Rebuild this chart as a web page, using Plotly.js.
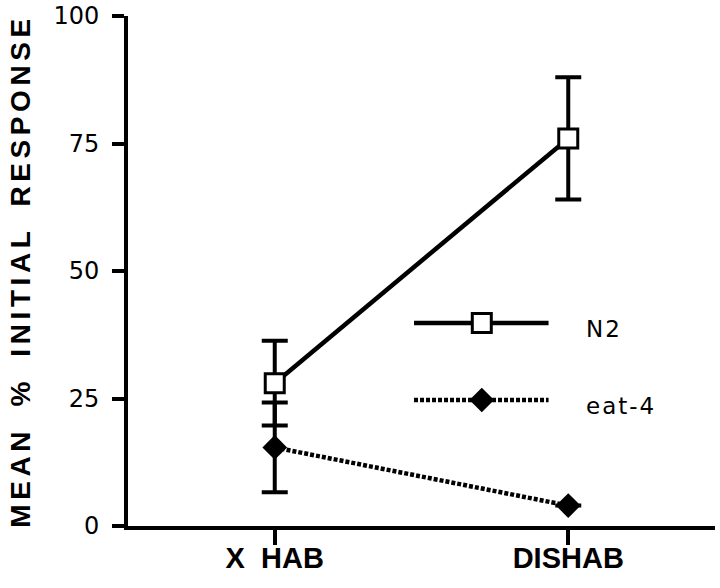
<!DOCTYPE html>
<html>
<head>
<meta charset="utf-8">
<script src="https://cdn.plot.ly/plotly-3.0.1.min.js"></script>
<style>
  html, body { margin: 0; padding: 0; background: #fff; }
  #chart { width: 720px; height: 588px; }
  .ytitle { letter-spacing: 4.6px; word-spacing: 8px; }
  .annotation-text { letter-spacing: 2px; }
</style>
</head>
<body>
<div id="chart"></div>
<script>
// ---- data ----
const categories = ['X HAB', 'DISHAB'];
const tickLabels = ['X\u00a0\u00a0HAB', 'DISHAB'];
const seriesNames = ['N2', 'eat-4'];
const n2Mean = [28.0, 76.0];
const n2Err = [8.3, 12.0];
const eat4Mean = [15.4, 4.0];
const eat4Err = [8.8, null];
const yTicks = [0, 25, 50, 75, 100];

// ---- legend placement (page pixels, decoration only) ----
const LEG = {
  xLine: [413, 548], xMark: 481, xText: 584,
  yN2: 323, yEat: 400, textDy: 6
};

const BLACK = '#000';
const traces = [
  // error bars first so the markers sit on top
  { x: categories, y: n2Mean, type: 'scatter', mode: 'markers', showlegend: false, hoverinfo: 'skip',
    marker: { size: 1, opacity: 0 },
    error_y: { type: 'data', array: n2Err, visible: true, color: BLACK, thickness: 4, width: 13 } },
  { x: categories, y: eat4Mean, type: 'scatter', mode: 'markers', showlegend: false, hoverinfo: 'skip',
    marker: { size: 1, opacity: 0 },
    error_y: { type: 'data', array: eat4Err, visible: true, color: BLACK, thickness: 4, width: 13 } },
  { x: categories, y: eat4Mean, name: seriesNames[1], type: 'scatter', mode: 'lines+markers', showlegend: false,
    line: { color: BLACK, width: 4.5, dash: '4px,2px' },
    marker: { symbol: 'diamond', size: 19, color: BLACK } },
  { x: categories, y: n2Mean, name: seriesNames[0], type: 'scatter', mode: 'lines+markers', showlegend: false,
    line: { color: BLACK, width: 4.5 },
    marker: { symbol: 'square', size: 19, color: '#fff', line: { color: BLACK, width: 3 } } },
  // custom legend (overlay axes in page pixels)
  { x: LEG.xLine, y: [LEG.yN2, LEG.yN2], xaxis: 'x2', yaxis: 'y2', mode: 'lines', showlegend: false, hoverinfo: 'skip',
    line: { color: BLACK, width: 4.5 } },
  { x: [LEG.xMark], y: [LEG.yN2], xaxis: 'x2', yaxis: 'y2', mode: 'markers', showlegend: false, hoverinfo: 'skip',
    marker: { symbol: 'square', size: 19, color: '#fff', line: { color: BLACK, width: 3 } } },
  { x: LEG.xLine, y: [LEG.yEat, LEG.yEat], xaxis: 'x2', yaxis: 'y2', mode: 'lines', showlegend: false, hoverinfo: 'skip',
    line: { color: BLACK, width: 4.5, dash: '4px,2px' } },
  { x: [LEG.xMark], y: [LEG.yEat], xaxis: 'x2', yaxis: 'y2', mode: 'markers', showlegend: false, hoverinfo: 'skip',
    marker: { symbol: 'diamond', size: 19, color: BLACK } }
];

const layout = {
  width: 720, height: 588,
  margin: { l: 128, r: 5, t: 16, b: 62, pad: 0 },
  paper_bgcolor: '#fff', plot_bgcolor: '#fff',
  showlegend: false,
  font: { family: 'Liberation Sans, Arial, sans-serif', color: BLACK },
  xaxis: {
    type: 'category', categoryorder: 'array', categoryarray: categories,
    range: [-0.5, 1.5], fixedrange: true,
    tickvals: categories, ticktext: tickLabels,
    showline: true, linecolor: BLACK, linewidth: 4,
    ticks: 'outside', ticklen: 15, tickwidth: 4, tickcolor: BLACK,
    showgrid: false, zeroline: false,
    ticklabelstandoff: -12,
    tickfont: { family: 'Liberation Sans, Arial, sans-serif', size: 29, color: BLACK, weight: 'bold' }
  },
  yaxis: {
    range: [0, 100], fixedrange: true,
    tickvals: yTicks, ticktext: yTicks.map(String),
    showline: true, linecolor: BLACK, linewidth: 4,
    ticks: 'outside', ticklen: 12, tickwidth: 4, tickcolor: BLACK,
    showgrid: false, zeroline: false,
    ticklabelstandoff: 8,
    tickfont: { family: 'DejaVu Sans, sans-serif', size: 24, color: BLACK },
    title: { text: 'MEAN % INITIAL RESPONSE', standoff: 16,
      font: { family: 'Liberation Sans, Arial, sans-serif', size: 28, color: BLACK, weight: 'bold' } }
  },
  xaxis2: { overlaying: 'x', range: [126, 715], visible: false, fixedrange: true },
  yaxis2: { overlaying: 'y', range: [526, 16], visible: false, fixedrange: true },
  annotations: [
    { xref: 'x2', yref: 'y2', x: LEG.xText, y: LEG.yN2 + LEG.textDy, text: seriesNames[0], showarrow: false,
      xanchor: 'left', yanchor: 'middle', font: { family: 'DejaVu Sans, sans-serif', size: 23, color: BLACK } },
    { xref: 'x2', yref: 'y2', x: LEG.xText, y: LEG.yEat + LEG.textDy, text: seriesNames[1], showarrow: false,
      xanchor: 'left', yanchor: 'middle', font: { family: 'DejaVu Sans, sans-serif', size: 23, color: BLACK } }
  ]
};

Plotly.newPlot('chart', traces, layout, { displayModeBar: false, staticPlot: true });
</script>
</body>
</html>
